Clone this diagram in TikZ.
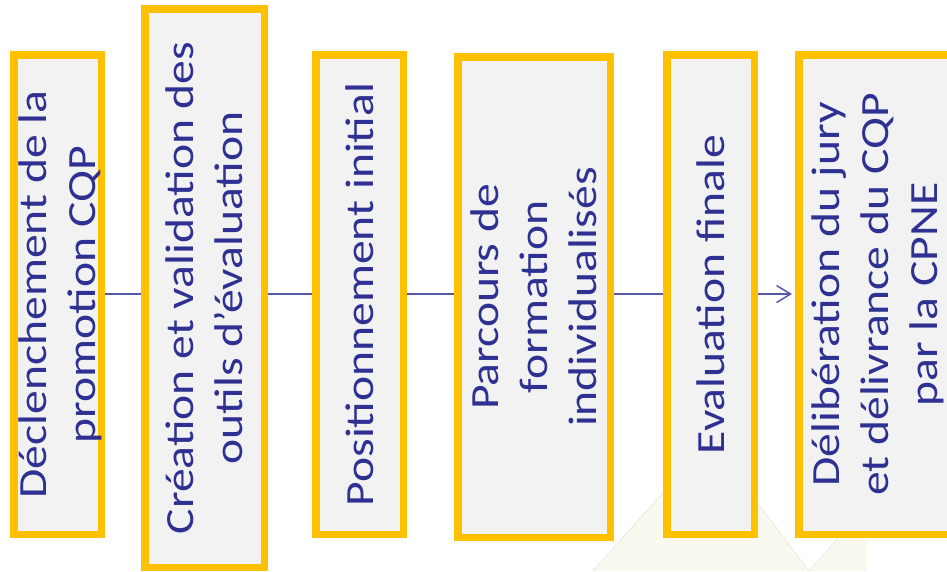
\documentclass[tikz,border=0pt]{standalone}
\usepackage{fontspec}
\usetikzlibrary{arrows.meta}
\newfontfamily\stepfont[FakeStretch=1.19]{Carlito}
\definecolor{boxborder}{HTML}{FFC000}
\definecolor{boxfill}{HTML}{F2F2F2}
\definecolor{steptext}{HTML}{2E3192}
\definecolor{flowline}{HTML}{5558AA}
\definecolor{pale}{HTML}{F9F9EF}
\definecolor{paleedge}{HTML}{EAEAE0}
% vertical, centred multi-line label
\newcommand\steplines[1]{\rotatebox{90}{\begin{tabular}{@{}c@{}}#1\end{tabular}}}

\begin{document}
\begin{tikzpicture}[x=1pt,y=-1pt,
  stepbox/.style={draw=boxborder, line width=7.5pt, fill=boxfill, inner sep=0pt},
  steplabel/.style={text=steptext, inner sep=0pt, font=\stepfont\fontsize{40}{49}\selectfont},
  flow/.style={draw=flowline, line width=1.5pt}]
\useasboundingbox (0,0) rectangle (947,571);

% faint watermark shape behind the last steps
\fill[pale] (593,571) -- (710,440) -- (809,571) -- cycle;
\fill[pale] (809,571) -- (840,536) -- (867,536) -- (867,571) -- cycle;
\draw[paleedge, line width=0.8pt] (593,571) -- (710,440) -- (809,571) -- (840,536);

% level of the flow line
\coordinate (ly) at (0,294);

% step boxes
\node[stepbox, minimum width=87.5pt,  minimum height=479.5pt] (b1) at (57.5,294.5) {};
\node[stepbox, minimum width=119.5pt, minimum height=558.5pt] (b2) at (204.5,288) {};
\node[stepbox, minimum width=87.5pt,  minimum height=479.5pt] (b3) at (359.5,294.5) {};
\node[stepbox, minimum width=152.5pt, minimum height=480.5pt] (b4) at (534,297) {};
\node[stepbox, minimum width=87.5pt,  minimum height=479.5pt] (b5) at (710.5,294.5) {};
\node[stepbox, minimum width=152.5pt, minimum height=479.5pt] (b6) at (875,294.5) {};

% labels
\node[steplabel] (t1) at ([xshift=4pt]b1.center) {\steplines{Déclenchement de la\\promotion CQP}};
\node[steplabel] (t2) at ([xshift=4pt]b2.center) {\steplines{Création et validation des\\outils d’évaluation}};
\node[steplabel] (t3) at ([xshift=4pt]b3.center) {\steplines{Positionnement initial}};
\node[steplabel] (t4) at ([xshift=4pt]b4.center) {\steplines{Parcours de\\formation\\individualisés}};
\node[steplabel] (t5) at ([xshift=4pt]b5.center) {\steplines{Evaluation finale}};
\node[steplabel] (t6) at ([xshift=4pt]b6.center) {\steplines{Délibération du jury\\et délivrance du CQP\\par la CPNE}};

% connectors
\draw[flow] (b1.east |- ly) -- (b2.west |- ly);
\draw[flow] (b2.east |- ly) -- (b3.west |- ly);
\draw[flow] (b3.east |- ly) -- (b4.west |- ly);
\draw[flow] (b4.east |- ly) -- (b5.west |- ly);
\draw[flow, -{Straight Barb[length=14pt,width=17pt]}, shorten >=3pt] (b5.east |- ly) -- (b6.west |- ly);
\end{tikzpicture}
\end{document}
